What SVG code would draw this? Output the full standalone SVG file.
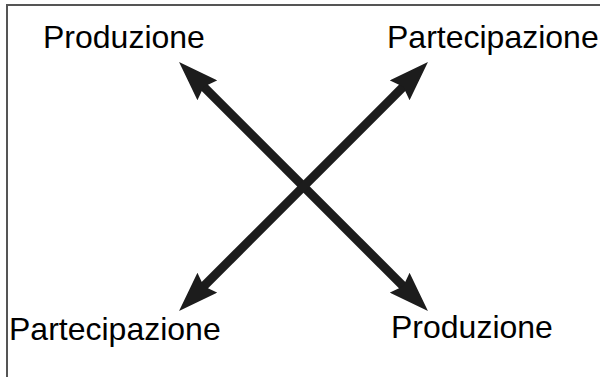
<svg xmlns="http://www.w3.org/2000/svg" width="600" height="377" viewBox="0 0 600 377">
<style>
.lbl{font-family:"Liberation Sans",Arial,sans-serif;font-size:32px;fill:#000}
.arr{stroke:#1c1c1c;stroke-width:9;fill:none;marker-start:url(#head);marker-end:url(#head)}
</style>
<defs>
<marker id="head" viewBox="0 -14 40 28" refX="18" refY="0" markerWidth="40" markerHeight="28" markerUnits="userSpaceOnUse" orient="auto-start-reverse">
<path d="M0,-14 L40,0 L0,14 L5,0 z" fill="#1c1c1c"/>
</marker>
</defs>
<rect width="600" height="377" fill="#fff"/>
<polyline points="7,377 7,5 600,5" fill="none" stroke="#555" stroke-width="2"/>
<g id="connectors">
<line class="arr" x1="194.6" y1="77.6" x2="412.4" y2="295.4"/>
<line class="arr" x1="412.4" y1="77.6" x2="194.6" y2="295.4"/>
</g>
<g id="produzione-top"><text class="lbl" x="43" y="48">Produzione</text></g>
<g id="partecipazione-top"><text class="lbl" x="387" y="48">Partecipazione</text></g>
<g id="partecipazione-bottom"><text class="lbl" x="9" y="340">Partecipazione</text></g>
<g id="produzione-bottom"><text class="lbl" x="391" y="338">Produzione</text></g>
</svg>
